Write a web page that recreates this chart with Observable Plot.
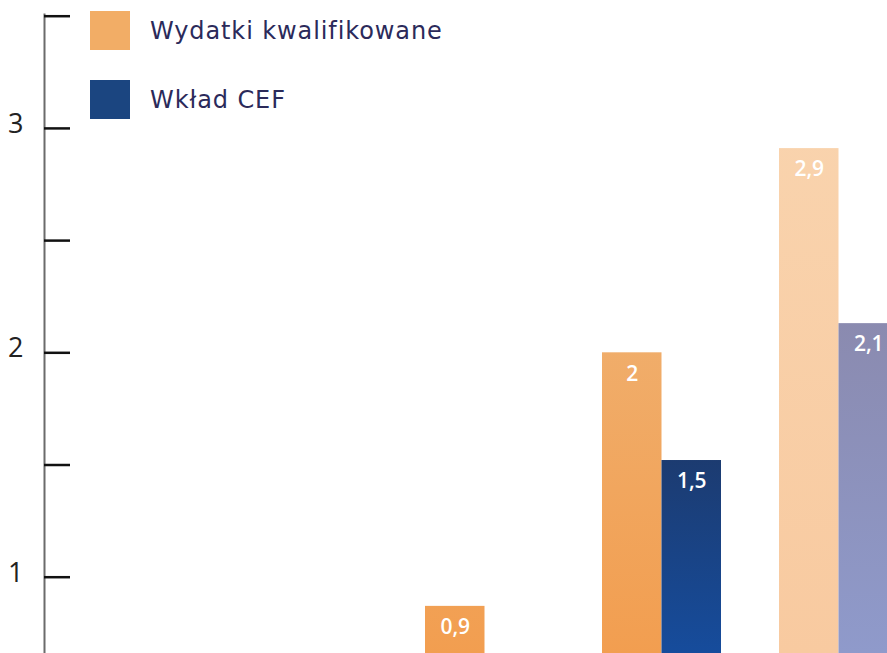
<!DOCTYPE html>
<html><head><meta charset="utf-8">
<script src="https://cdn.jsdelivr.net/npm/d3@7"></script>
<script src="https://cdn.jsdelivr.net/npm/@observablehq/plot@0.6"></script>
<style>
html,body{margin:0;padding:0;background:#fff;overflow:hidden;}
#wrap{position:relative;width:887px;height:653px;overflow:hidden;}
.legend{position:absolute;left:90px;top:11px;font-family:"DejaVu Sans",sans-serif;font-size:24px;letter-spacing:0.9px;color:#2b2a5a;}
.item{display:flex;align-items:center;height:39px;margin-bottom:30px;}
.sw{width:40px;height:39px;margin-right:20px;}
</style></head>
<body><div id="wrap"></div>
<script>
// Data
const groups = ["Okres 1", "Okres 2", "Okres 3"];
const wydatki = [0.87, 2.0, 2.91];      // Wydatki kwalifikowane
const cef = [null, 1.52, 2.13];          // Wkład CEF (first not visible)
const seriesNames = ["Wydatki kwalifikowane", "Wkład CEF"];
const yTicks = [1, 1.5, 2, 2.5, 3, 3.5];
const yLabels = [1, 2, 3];

const orangeData = groups.map((g, i) => ({group: g, value: wydatki[i], idx: i})).filter(d => d.value != null);
const blueData = groups.map((g, i) => ({group: g, value: cef[i], idx: i})).filter(d => d.value != null);

const bw = 119;
const fmt = v => d3.format(".1~f")(v).replace(".", ",");
const barFont = "Open Sans, sans-serif";

const svg = Plot.plot({
  width: 887, height: 653,
  marginTop: 0, marginBottom: 0, marginRight: 0, marginLeft: 44,
  style: {background: "white", fontFamily: "DejaVu Sans, sans-serif", overflow: "hidden"},
  x: {type: "band", domain: groups, range: [424.8, 898.8], paddingInner: 0.3296, paddingOuter: 0, axis: null},
  y: {domain: [0.66, 3.57], range: [653, 0], axis: null},
  color: {type: "identity"},
  marks: [
    Plot.barY(orangeData, {x: "group", y: "value", insetRight: bw / 2, clip: true,
      fill: d => d.idx === 2 ? "url(#gLightOrange)" : "url(#gOrange)"}),
    Plot.barY(blueData, {x: "group", y: "value", insetLeft: bw / 2, clip: true,
      fill: d => d.idx === 2 ? "url(#gPurple)" : "url(#gBlue)"}),
    Plot.text(orangeData, {x: "group", y: "value", text: d => fmt(d.value), dx: -bw / 4, dy: 21,
      fill: "white", fontSize: 21, fontWeight: 600, fontFamily: barFont, lineAnchor: "middle"}),
    Plot.text(blueData, {x: "group", y: "value", text: d => fmt(d.value), dx: bw / 4, dy: 21,
      fill: "white", fontSize: 21, fontWeight: 600, fontFamily: barFont, lineAnchor: "middle"}),
    Plot.frame({anchor: "left", stroke: "#6b6b6b", strokeWidth: 2, insetTop: 14}),
    Plot.axisY({ticks: yTicks, tickSize: -26, fill: "none", stroke: "#111", strokeWidth: 2.5, label: null}),
    Plot.axisY({ticks: yLabels, tickSize: 0, tickPadding: 21, fontSize: 27, dy: -4,
      fontFamily: "Open Sans, sans-serif",
      fill: "#222", label: null, tickFormat: d => String(d)})
  ]
});

// gradients
const ns = "http://www.w3.org/2000/svg";
const defs = document.createElementNS(ns, "defs");
function grad(id, stops) {
  const g = document.createElementNS(ns, "linearGradient");
  g.setAttribute("id", id);
  g.setAttribute("gradientUnits", "userSpaceOnUse");
  g.setAttribute("x1", 0); g.setAttribute("x2", 0);
  g.setAttribute("y1", 0); g.setAttribute("y2", 653);
  for (const [o, c] of stops) {
    const s = document.createElementNS(ns, "stop");
    s.setAttribute("offset", o); s.setAttribute("stop-color", c);
    g.appendChild(s);
  }
  defs.appendChild(g);
}
grad("gOrange", [[0.5, "#f0ae6c"], [1, "#f29e50"]]);
grad("gBlue", [[0.7, "#1c3b70"], [1, "#164c9c"]]);
grad("gLightOrange", [[0.2, "#f9d3ad"], [1, "#f8caa0"]]);
grad("gPurple", [[0.45, "#8a89ad"], [1, "#8f9acb"]]);
svg.insertBefore(defs, svg.firstChild);

const wrap = document.getElementById("wrap");
wrap.appendChild(svg);

const legend = document.createElement("div");
legend.className = "legend";
const swColors = ["#f2ad66", "#1b4580"];
seriesNames.forEach((n, i) => {
  const it = document.createElement("div");
  it.className = "item";
  const sw = document.createElement("div");
  sw.className = "sw"; sw.style.background = swColors[i];
  const t = document.createElement("span");
  t.textContent = n;
  it.appendChild(sw); it.appendChild(t);
  legend.appendChild(it);
});
wrap.appendChild(legend);
</script>
</body></html>
